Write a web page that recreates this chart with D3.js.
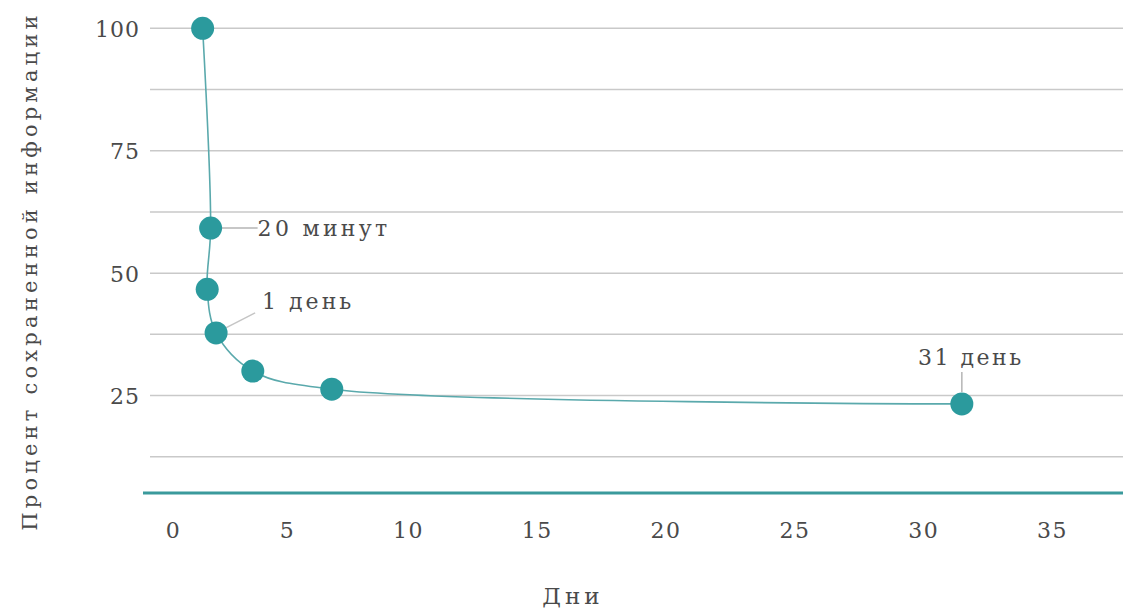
<!DOCTYPE html>
<html><head><meta charset="utf-8">
<script src="https://cdn.jsdelivr.net/npm/d3@7"></script>
<style>body{margin:0;background:#fff}svg{display:block}text{font-family:"DejaVu Serif",serif;fill:#4a4a4a}</style>
</head><body><svg id="c" width="1123" height="609"></svg>
<script>
const days = [1.30, 1.65, 1.50, 1.89, 3.50, 6.85, 31.5];
const retention = [100, 59.2, 46.7, 37.8, 30.0, 26.3, 23.3];
const annotations = [
  {i:1, text:"20 минут"},
  {i:3, text:"1 день"},
  {i:6, text:"31 день"}
];
const xTicks = [0,5,10,15,20,25,30,35];
const yTicks = [25,50,75,100];
const yGrid = [12.5,25,37.5,50,62.5,75,87.5,100];
const xTitle = "Дни";
const yTitle = "Процент сохраненной информации";

const svg = d3.select("#c");
const teal = "#2b9a9d";
const x = d3.scaleLinear().domain([0,5,10,35]).range([173,287,408,1052]);
const y = d3.scaleLinear().domain([5.1,100]).range([493,28.3]);

// grid
svg.append("g").selectAll("line").data(yGrid).join("line")
  .attr("x1",150).attr("x2",1123).attr("y1",d=>y(d)).attr("y2",d=>y(d))
  .attr("stroke","#c9c9c9").attr("stroke-width",1.5);
// baseline
svg.append("line").attr("x1",143).attr("x2",1123).attr("y1",y(5.1)).attr("y2",y(5.1))
  .attr("stroke","#3a9a9c").attr("stroke-width",3);

// y axis
const ya = svg.append("g").attr("transform","translate(140,0)")
  .call(d3.axisLeft(y).tickValues(yTicks).tickSize(0).tickPadding(0).tickFormat(d3.format("d")));
ya.select(".domain").remove();
ya.selectAll("text").attr("font-size",22).attr("fill","#4a4a4a").style("font-family","DejaVu Serif").attr("letter-spacing",1).attr("dy","0.36em");

// x axis
const xa = svg.append("g").attr("transform","translate(0,518)")
  .call(d3.axisBottom(x).tickValues(xTicks).tickSize(0).tickPadding(0).tickFormat(d3.format("d")));
xa.select(".domain").remove();
xa.selectAll("text").attr("font-size",22).attr("fill","#4a4a4a").style("font-family","DejaVu Serif").attr("letter-spacing",1.5).attr("dy","0.9em");

// titles
svg.append("text").attr("x",573).attr("y",604).attr("text-anchor","middle")
  .attr("font-size",23).attr("letter-spacing",4).text(xTitle);
svg.append("text").attr("transform","translate(37,271) rotate(-90)").attr("text-anchor","middle")
  .attr("font-size",21).attr("letter-spacing",4.2).text(yTitle);

// connectors
const pts = days.map((d,i)=>[x(d), y(retention[i])]);
const a0 = pts[1], a1 = pts[3], a2 = pts[6];
svg.append("line").attr("x1",a0[0]).attr("y1",a0[1]).attr("x2",a0[0]+47).attr("y2",a0[1]).attr("stroke","#b5b5b5").attr("stroke-width",1.5);
svg.append("line").attr("x1",a1[0]).attr("y1",a1[1]).attr("x2",a1[0]+39).attr("y2",a1[1]-20).attr("stroke","#c5c5c5").attr("stroke-width",1.5);
svg.append("line").attr("x1",a2[0]).attr("y1",a2[1]-12).attr("x2",a2[0]).attr("y2",a2[1]-32).attr("stroke","#b5b5b5").attr("stroke-width",1.5);

// line
const line = d3.line().x(d=>d[0]).y(d=>d[1]).curve(d3.curveCatmullRom.alpha(0.5));
svg.append("path").datum(pts).attr("d",line).attr("fill","none").attr("stroke","#5aa9ac").attr("stroke-width",1.6);

// points
svg.append("g").selectAll("circle").data(pts).join("circle")
  .attr("cx",d=>d[0]).attr("cy",d=>d[1]).attr("r",11.5).attr("fill",teal);

// annotation labels
svg.append("text").attr("x",a0[0]+47).attr("y",a0[1]).attr("dy","0.36em").attr("font-size",22).attr("letter-spacing",3.3).attr("fill","#3f3f3f").text(annotations[0].text);
svg.append("text").attr("x",a1[0]+46).attr("y",a1[1]-32).attr("dy","0.36em").attr("font-size",22).attr("letter-spacing",3).attr("fill","#3f3f3f").text(annotations[1].text);
svg.append("text").attr("x",a2[0]+9).attr("y",a2[1]-47).attr("dy","0.36em").attr("text-anchor","middle").attr("font-size",22).attr("letter-spacing",2.5).attr("fill","#3f3f3f").text(annotations[2].text);
</script></body></html>
